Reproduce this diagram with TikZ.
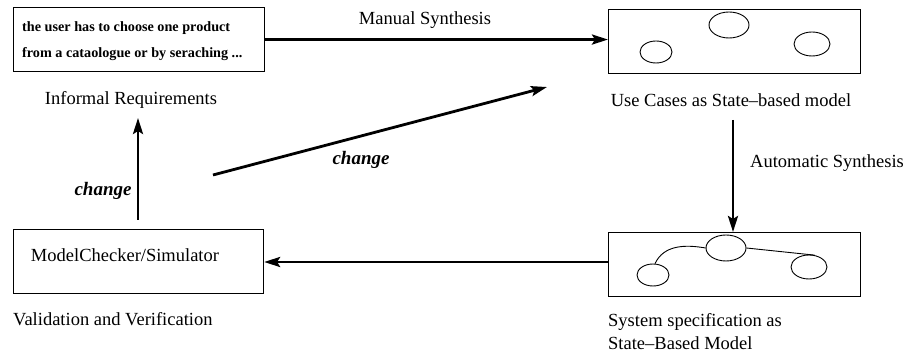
\documentclass[tikz,border=0pt]{standalone}
\usepackage{fontspec}
\setmainfont{Liberation Serif}
\usetikzlibrary{arrows.meta,shapes.geometric}
\begin{document}
\begin{tikzpicture}[x=1pt,y=-1pt,
  lbl/.style={font=\fontsize{18.5}{22}\selectfont, inner sep=0pt},
  chg/.style={font=\fontsize{19}{22}\selectfont\bfseries\itshape, inner sep=0pt},
  panel/.style={draw, line width=1.1pt, rectangle, inner sep=0pt},
  state/.style={draw, line width=0.9pt, ellipse, inner sep=0pt},
  flow/.style={line width=2.8pt, -{Stealth[length=16pt,width=10pt,inset=3pt]}},
  link/.style={line width=0.9pt}
]
\useasboundingbox (0,0) rectangle (908,363);

% informal requirements
\node[panel, minimum width=251pt, minimum height=64pt, anchor=north west] (req) at (13,7) {};
\node[anchor=west, align=left, inner sep=0pt,
      font=\fontsize{14.2}{26}\selectfont\bfseries] (reqtxt) at (22,41)
  {the user has to choose one product\\from a cataologue or by seraching ...};
\node[lbl] (reqlbl) at (131,100) {Informal Requirements};

% use cases
\node[panel, minimum width=252pt, minimum height=64pt, anchor=north west] (uc) at (608,9) {};
\node[state, minimum width=40pt, minimum height=26pt] (uT) at (729,25) {};
\node[state, minimum width=32pt, minimum height=22pt] (uL) at (656,52) {};
\node[state, minimum width=36pt, minimum height=24pt] (uR) at (812,44) {};
\node[lbl] (uclbl) at (731,100) {Use Cases as State–based model};

% system specification
\node[panel, minimum width=252pt, minimum height=64pt, anchor=north west] (sys) at (608,232) {};
\node[state, minimum width=40pt, minimum height=26pt] (sT) at (726,248) {};
\node[state, minimum width=32pt, minimum height=22pt] (sL) at (653,275) {};
\node[state, minimum width=36pt, minimum height=24pt] (sR) at (809,267) {};
\draw[link] (sL.80) to[out=65,in=170] (sT.west);
\draw[link] (sT.east) -- (sR.65);
\node[lbl, anchor=west] (syslbl1) at (608,322) {System specification as};
\node[lbl, anchor=west] (syslbl2) at (608,343) {State–Based Model};

% model checker
\node[panel, minimum width=250pt, minimum height=64pt, anchor=north west] (mc) at (13,229) {};
\node[lbl] (mctxt) at (125,255) {ModelChecker/Simulator};
\node[lbl, anchor=west] (mclbl) at (13,319) {Validation and Verification};

% connectors
\draw[flow] (req.east) -- (req.east -| uc.west);
\node[lbl] (manual) at (425,20) {Manual Synthesis};

\coordinate (autoA) at (733,120);
\draw[flow] (autoA) -- (autoA |- sys.north);
\node[lbl, anchor=west] (auto) at (750,163) {Automatic Synthesis};

\draw[flow] (sys.west |- 0,262) -- (mc.east |- 0,262);

\coordinate (upA) at (138,220);
\coordinate (upB) at (138,118);
\draw[flow] (upA) -- (upB);
\node[chg] (chg1) at (103,191) {change};

\coordinate (diagA) at (213,175);
\coordinate (diagB) at (547,87);
\draw[flow] (diagA) -- (diagB);
\node[chg] (chg2) at (361,160) {change};
\end{tikzpicture}
\end{document}
